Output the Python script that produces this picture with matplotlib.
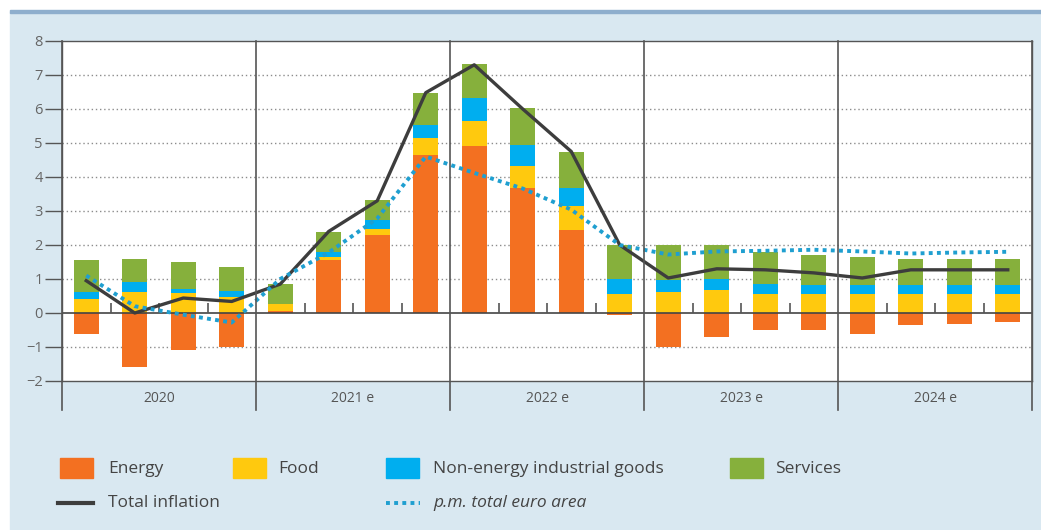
import matplotlib.pyplot as plt
import numpy as np
from matplotlib.patches import Rectangle
from matplotlib.lines import Line2D

# -----------------------------
# Data (contributions, pp)
# -----------------------------
years = ["2020", "2021 e", "2022 e", "2023 e", "2024 e"]

energy = [-0.61, -1.59, -1.10, -1.00, 0.07, 1.55, 2.28, 4.66, 4.90, 3.68,
          2.43, -0.05, -1.00, -0.71, -0.51, -0.51, -0.61, -0.36, -0.31, -0.26]
food = [0.41, 0.61, 0.60, 0.46, 0.20, 0.10, 0.20, 0.49, 0.74, 0.63,
        0.71, 0.57, 0.62, 0.67, 0.57, 0.57, 0.57, 0.57, 0.57, 0.57]
neig = [0.21, 0.29, 0.10, 0.20, 0.00, 0.15, 0.25, 0.39, 0.68, 0.64,
        0.54, 0.44, 0.34, 0.34, 0.29, 0.24, 0.24, 0.24, 0.24, 0.24]
services = [0.93, 0.70, 0.80, 0.69, 0.59, 0.58, 0.58, 0.93, 1.00, 1.08,
            1.07, 0.98, 1.03, 0.98, 0.93, 0.89, 0.84, 0.79, 0.79, 0.79]
total = [0.95, 0.00, 0.44, 0.34, 0.85, 2.40, 3.30, 6.48, 7.30, 6.00,
         4.75, 2.00, 1.03, 1.30, 1.27, 1.18, 1.03, 1.27, 1.27, 1.27]
euro_area = [1.10, 0.20, -0.05, -0.28, 1.00, 1.78, 2.78, 4.60, 4.12, 3.66,
             3.04, 2.00, 1.72, 1.81, 1.83, 1.86, 1.81, 1.75, 1.78, 1.80]

series = [("Energy", energy, "#f37021"),
          ("Food", food, "#ffc90e"),
          ("Non-energy industrial goods", neig, "#00aeef"),
          ("Services", services, "#86b03c")]

plt.rcParams["font.family"] = ["Liberation Sans Narrow", "Open Sans", "DejaVu Sans"]

W, H = 1041, 530
fig = plt.figure(figsize=(W / 100, H / 100), dpi=100, facecolor="white")

# background panel + top rule
fig.add_artist(Rectangle((10 / W, 0), 1 - 10 / W, 1 - 12 / H,
                         transform=fig.transFigure, color="#d9e8f1", zorder=0))
fig.add_artist(Rectangle((10 / W, 1 - 13 / H), 1 - 10 / W, 3 / H,
                         transform=fig.transFigure, color="#8eaecd", zorder=0))

ax = fig.add_axes([62 / W, 1 - 381 / H, 970 / W, 340 / H])
ax.set_facecolor("white")

n = len(total)
x = np.arange(n)
width = 0.52

# -----------------------------
# Stacked bars
# -----------------------------
pos_base = np.zeros(n)
neg_base = np.zeros(n)
for name, vals, col in series:
    v = np.array(vals)
    bottom = np.where(v >= 0, pos_base, neg_base)
    ax.bar(x, v, width, bottom=bottom, color=col, zorder=2, linewidth=0)
    pos_base = pos_base + np.where(v >= 0, v, 0)
    neg_base = neg_base + np.where(v < 0, v, 0)

ax.plot(x, total, color="#3d3d3d", lw=2.4, zorder=4)
ax.plot(x, euro_area, color="#1f9fd0", lw=2.8, ls=(0, (1, 1.1)),
        dash_capstyle="butt", zorder=5)

# -----------------------------
# Axes styling
# -----------------------------
ax.set_xlim(-0.5, n - 0.5)
ax.set_ylim(-2, 8)
ax.set_yticks(range(-2, 9))
ax.set_yticklabels([str(t).replace("-", "\u2212") for t in range(-2, 9)])
ax.tick_params(axis="y", length=12, width=1, color="#555555",
               labelcolor="#666666", labelsize=10.5, pad=2)
ax.set_xticks([])

for yv in range(-1, 8):
    if yv == 0:
        continue
    ax.axhline(yv, color="#8c8c8c", lw=1, ls=(0, (1, 2)), zorder=1)
ax.axhline(0, color="#444444", lw=1.2, zorder=3)

for s in ax.spines.values():
    s.set_color("#555555")
    s.set_linewidth(1)

# quarter ticks on zero line
q_ticks = [i + 0.5 for i in range(n - 1) if (i + 1) % 4 != 0]
ax.vlines(q_ticks, 0, 0.28, color="#555555", lw=1.2, zorder=3)

# year separators and labels
for k in range(len(years) + 1):
    xs = 4 * k - 0.5
    ax.plot([xs, xs], [-2.85, 8], color="#555555", lw=1.2,
            clip_on=False, zorder=6)
for k, yr in enumerate(years):
    ax.text(4 * k + 1.5, -2.5, yr, ha="center", va="center",
            fontsize=10, color="#555555")

# -----------------------------
# Legend (manual)
# -----------------------------
def fx(px):
    return px / W


def fy(py):
    return 1 - py / H


legend_pos = [(60, 108), (233, 278), (386, 433), (730, 775)]
for (px, tx), (name, vals, col) in zip(legend_pos, series):
    fig.add_artist(Rectangle((fx(px), fy(478)), 33 / W, 20 / H,
                             transform=fig.transFigure, color=col))
    fig.text(fx(tx), fy(469), name, va="center", ha="left",
             fontsize=12.5, color="#444444")

fig.add_artist(Line2D([fx(58), fx(93)], [fy(503), fy(503)],
                      transform=fig.transFigure, color="#3d3d3d", lw=3))
fig.text(fx(108), fy(503), "Total inflation", va="center", ha="left",
         fontsize=12.5, color="#444444")
fig.add_artist(Line2D([fx(386), fx(420)], [fy(503), fy(503)],
                      transform=fig.transFigure, color="#1f9fd0", lw=2.8,
                      ls=(0, (1, 1.1)), dash_capstyle="butt"))
fig.text(fx(433), fy(503), "p.m. total euro area", va="center", ha="left",
         fontsize=12.5, color="#444444", style="italic")

fig.savefig("out.png", dpi=100)
